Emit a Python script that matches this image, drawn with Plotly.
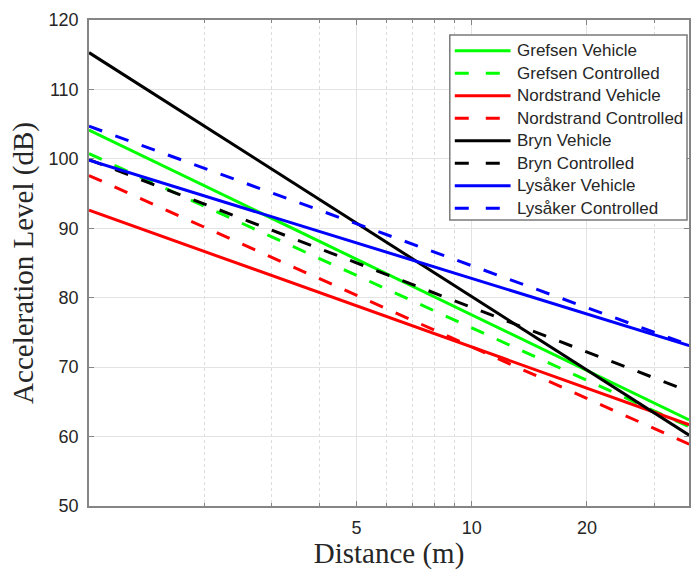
import plotly.graph_objects as go

# Distance endpoints (m): left axis limit and right image edge
distance = [1, 37]

series_names = [
    "Grefsen Vehicle", "Grefsen Controlled",
    "Nordstrand Vehicle", "Nordstrand Controlled",
    "Bryn Vehicle", "Bryn Controlled",
    "Lysåker Vehicle", "Lysåker Controlled",
]
grefsen_vehicle = [104.15, 62.4]
grefsen_controlled = [100.75, 61.4]
nordstrand_vehicle = [92.6, 61.7]
nordstrand_controlled = [97.6, 58.9]
bryn_vehicle = [115.3, 60.2]
bryn_controlled = [99.9, 66.5]
lysaker_vehicle = [99.8, 73.1]
lysaker_controlled = [104.7, 73.2]

series_values = [
    grefsen_vehicle, grefsen_controlled,
    nordstrand_vehicle, nordstrand_controlled,
    bryn_vehicle, bryn_controlled,
    lysaker_vehicle, lysaker_controlled,
]
colors = ["#00ff00", "#00ff00", "#ff0000", "#ff0000",
          "#000000", "#000000", "#0000ff", "#0000ff"]
dashes = ["solid", "14px,14px"] * 4
legend_dashes = ["solid", "14px,17px"] * 4

x_tick_vals = [5, 10, 20]
x_tick_text = ["5", "10", "20"]
y_tick_vals = [50, 60, 70, 80, 90, 100, 110, 120]

W, H = 691, 570
ML, MR, MT, MB = 89, 0, 20, 64
PW, PH = W - ML - MR, H - MT - MB


def px_x(p):
    return (p - ML) / PW


def px_y(p):
    return (H - MB - p) / PH


fig = go.Figure()
for name, vals, c, d in zip(series_names, series_values, colors, dashes):
    fig.add_trace(go.Scatter(
        x=distance, y=vals, mode="lines", name=name,
        line=dict(color=c, width=3, dash=d), showlegend=False,
    ))

# Legend box drawn in paper coordinates (MATLAB-style legend)
shapes = [dict(type="rect", xref="paper", yref="paper",
               x0=px_x(451), x1=px_x(689), y0=px_y(220), y1=px_y(35),
               fillcolor="white", line=dict(color="#7a7a7a", width=1.5), layer="above")]
annotations = []
for i, (name, c, d) in enumerate(zip(series_names, colors, legend_dashes)):
    yy = px_y(50.7 + 22.5 * i)
    shapes.append(dict(type="line", xref="paper", yref="paper",
                       x0=px_x(456), x1=px_x(512), y0=yy, y1=yy,
                       line=dict(color=c, width=3, dash=d), layer="above"))
    annotations.append(dict(text=name, xref="paper", yref="paper",
                            x=px_x(516), y=yy, xanchor="left", yanchor="middle",
                            showarrow=False,
                            font=dict(size=17, family="Liberation Sans, Arial", color="#262626")))

axis_col = "#858585"
serif = "Liberation Serif, Times New Roman"
fig.update_layout(
    width=W, height=H,
    margin=dict(l=ML, r=MR, t=MT, b=MB),
    paper_bgcolor="white", plot_bgcolor="white",
    font=dict(family="Liberation Sans, Arial", color="#262626"),
    showlegend=False,
    shapes=shapes, annotations=annotations,
    xaxis=dict(
        type="log", range=[0, 1.5677],
        tickvals=x_tick_vals, ticktext=x_tick_text,
        ticks="inside", ticklen=5, tickcolor=axis_col, tickwidth=1,
        showline=True, linecolor=axis_col, linewidth=1.5, mirror="ticks",
        showgrid=True, gridcolor="#e3e3e3", gridwidth=1,
        zeroline=False,
        tickfont=dict(size=18),
        ticklabelstandoff=5,
        minor=dict(dtick="D1", ticks="inside", ticklen=3, tickcolor=axis_col,
                   showgrid=True, gridcolor="#dcdcdc", griddash="dot", gridwidth=1),
        title=dict(text="Distance (m)", font=dict(family=serif, size=29, color="#262626"), standoff=4),
    ),
    yaxis=dict(
        range=[50, 120], tickvals=y_tick_vals,
        ticks="inside", ticklen=5, tickcolor=axis_col, tickwidth=1,
        showline=True, linecolor=axis_col, linewidth=1.5, mirror="ticks",
        showgrid=True, gridcolor="#e3e3e3", gridwidth=1,
        zeroline=False,
        tickfont=dict(size=18),
        ticklabelstandoff=5,
        title=dict(text="Acceleration Level (dB)", font=dict(family=serif, size=29, color="#262626"), standoff=6),
    ),
)

fig.write_html(
    "out.html",
    config={"displayModeBar": False},
    post_script="document.body.style.margin='0';document.body.style.overflow='hidden';",
)
